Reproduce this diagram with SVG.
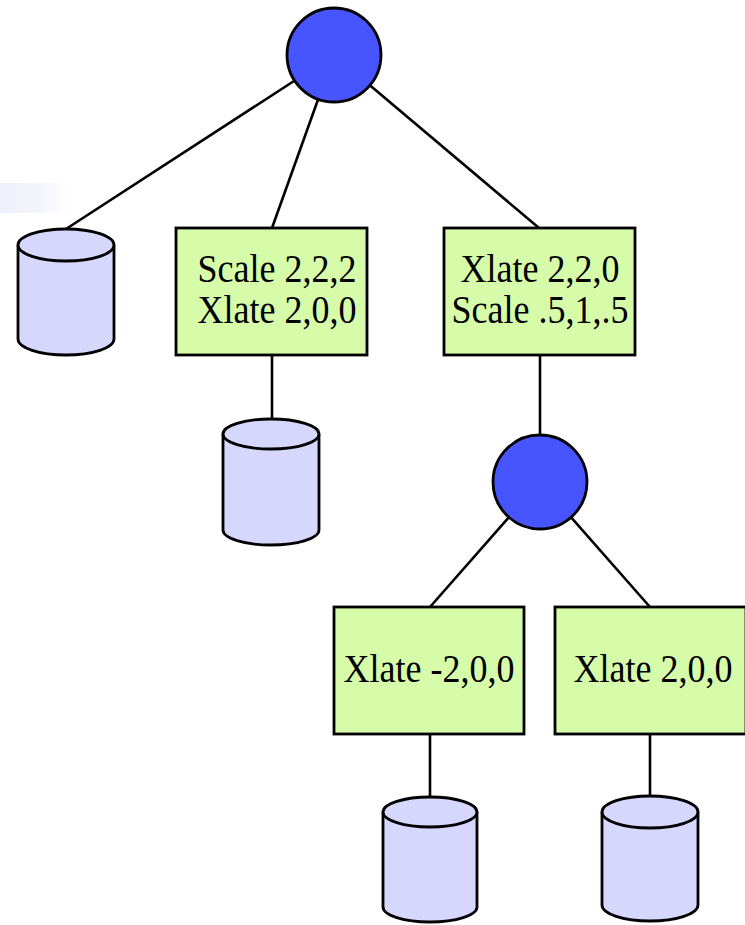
<svg xmlns="http://www.w3.org/2000/svg" width="745" height="925" viewBox="0 0 745 925">
<defs>
<linearGradient id="fade" x1="0" y1="0" x2="1" y2="0">
<stop offset="0" stop-color="#f0f0fb"/>
<stop offset="0.6" stop-color="#f4f4fc"/>
<stop offset="1" stop-color="#ffffff"/>
</linearGradient>
</defs>
<style>
.edge{stroke:#000;stroke-width:2.6;fill:none}
.node{fill:#4655ff;stroke:#000;stroke-width:2.8}
.box{fill:#d6fca9;stroke:#000;stroke-width:2.8}
.cyl{fill:#d6d7fc;stroke:#000;stroke-width:2.8}
.lbl{font-family:"Liberation Serif","Times New Roman",serif;font-size:36px;fill:#000;text-anchor:middle}
</style>
<rect x="0" y="183" width="68" height="30" fill="url(#fade)"/>
<g id="connectors">
<line class="edge" x1="334" y1="55" x2="66" y2="229"/>
<line class="edge" x1="334" y1="55" x2="272" y2="228"/>
<line class="edge" x1="334" y1="55" x2="539" y2="228"/>
<line class="edge" x1="272" y1="355" x2="272" y2="420"/>
<line class="edge" x1="540" y1="355" x2="540" y2="435"/>
<line class="edge" x1="540" y1="482" x2="430" y2="607"/>
<line class="edge" x1="540" y1="482" x2="650" y2="607"/>
<line class="edge" x1="430" y1="734" x2="430" y2="797"/>
<line class="edge" x1="650" y1="734" x2="650" y2="796"/>
</g>
<g id="root"><circle class="node" cx="334" cy="55" r="47"/></g>
<g id="db1"><path class="cyl" d="M18,245 A48,16 0 0 1 114,245 L114,339 A48,16 0 0 1 18,339 Z"/><path class="cyl" d="M18,245 A48,16 0 0 0 114,245"/></g>
<g id="t1"><rect class="box" x="176" y="228" width="191" height="127"/><text class="lbl" transform="translate(277,282) scale(1,1.12)">Scale 2,2,2</text><text class="lbl" transform="translate(277,323) scale(1,1.12)">Xlate 2,0,0</text></g>
<g id="t2"><rect class="box" x="444" y="228" width="191" height="127"/><text class="lbl" transform="translate(540,282) scale(1,1.12)">Xlate 2,2,0</text><text class="lbl" transform="translate(540,323) scale(1,1.12)">Scale .5,1,.5</text></g>
<g id="db2"><path class="cyl" d="M223,434 A48,15 0 0 1 319,434 L319,530 A48,15 0 0 1 223,530 Z"/><path class="cyl" d="M223,434 A48,15 0 0 0 319,434"/></g>
<g id="group"><circle class="node" cx="540" cy="482" r="47"/></g>
<g id="t3"><rect class="box" x="334" y="607" width="190" height="127"/><text class="lbl" transform="translate(429,682) scale(1,1.12)">Xlate -2,0,0</text></g>
<g id="t4"><rect class="box" x="555" y="607" width="191" height="127"/><text class="lbl" transform="translate(653,682) scale(1,1.12)">Xlate 2,0,0</text></g>
<g id="db3"><path class="cyl" d="M383,812 A47,15 0 0 1 477,812 L477,907 A47,15 0 0 1 383,907 Z"/><path class="cyl" d="M383,812 A47,15 0 0 0 477,812"/></g>
<g id="db4"><path class="cyl" d="M602,812 A48,16 0 0 1 698,812 L698,905 A48,16 0 0 1 602,905 Z"/><path class="cyl" d="M602,812 A48,16 0 0 0 698,812"/></g>
</svg>
